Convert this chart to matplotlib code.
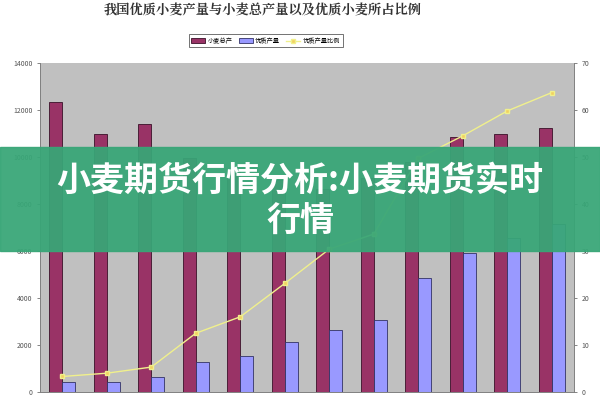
import matplotlib.pyplot as plt
import numpy as np

plt.rcParams['font.family'] = ['Noto Sans CJK SC', 'DejaVu Sans']

# values (hidden ones estimated)
years = np.arange(12)
total_output = [12340, 10980, 11390, 9960, 9390, 9030, 8650, 9100, 9780, 10870, 10960, 11250]
quality_output = [410, 440, 640, 1280, 1520, 2110, 2640, 3060, 4860, 5930, 6560, 7160]
quality_ratio = [3.3, 4.0, 5.3, 12.5, 16.0, 23.1, 30.4, 33.6, 49.7, 54.5, 59.8, 63.7]

left_ticks = np.arange(0, 14001, 2000)
right_ticks = np.arange(0, 71, 10)

fig = plt.figure(figsize=(6, 4), dpi=100)
ax = fig.add_axes([0.0667, 0.02, 0.89, 0.8225])
ax.set_facecolor('#c0c0c0')

w = 0.29
b1 = ax.bar(years - w / 2, total_output, w, color='#993366', edgecolor='#3a1028', linewidth=0.6,
            label='小麦总产')
b2 = ax.bar(years + w / 2, quality_output, w, color='#9999ff', edgecolor='#333366', linewidth=0.6,
            label='优质产量')
ax.set_xlim(-0.5, 11.5)
ax.set_ylim(0, 14000)
ax.set_yticks(left_ticks)
ax.set_xticks([])
ax.tick_params(axis='y', labelsize=5, colors='#555555', length=2, width=0.5)

ax2 = ax.twinx()
ln, = ax2.plot(years, quality_ratio, color='#f0f08c', linewidth=1.0, marker='s', markersize=2.5,
               markerfacecolor='#f2d060', markeredgecolor='#f0f08c', label='优质产量比例')
ax2.set_ylim(0, 70)
ax2.set_yticks(right_ticks)
ax2.tick_params(axis='y', labelsize=5, colors='#555555', length=2, width=0.5)

for a in (ax, ax2):
    for s in a.spines.values():
        s.set_color('#808080')
        s.set_linewidth(0.6)
    a.spines['top'].set_visible(False)

fig.text(0.437, 0.975, '我国优质小麦产量与小麦总产量以及优质小麦所占比例', ha='center', va='center',
         fontsize=9.5, fontweight='bold', color='#333333', family=['Noto Serif CJK SC', 'Noto Sans CJK SC'])

leg = fig.legend(handles=[b1, b2, ln], loc='center', bbox_to_anchor=(0.443, 0.898), ncol=3,
                 fontsize=4.5, frameon=True, fancybox=False, edgecolor='#333333',
                 handlelength=2.2, handletextpad=0.4, columnspacing=1.0, borderpad=0.4)
leg.get_frame().set_linewidth(0.6)

# green banner with headline on top
fig.patches.append(plt.Rectangle((0, 1 - 251 / 400), 1, 104 / 400, transform=fig.transFigure,
                                 color='#38a677', alpha=0.94, zorder=5))
fig.text(0.5, 1 - 180 / 400, '小麦期货行情分析:小麦期货实时', ha='center', va='center',
         fontsize=24.5, fontweight='bold', color='white', zorder=6)
fig.text(0.5, 1 - 221 / 400, '行情', ha='center', va='center',
         fontsize=24.5, fontweight='bold', color='white', zorder=6)

fig.savefig('out.png', dpi=100)
